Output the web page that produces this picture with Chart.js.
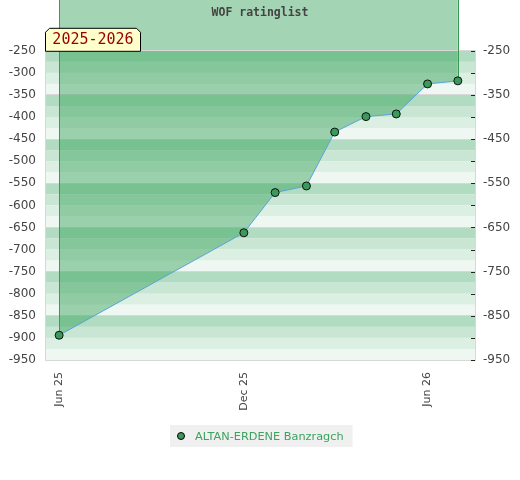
<!DOCTYPE html>
<html>
<head>
<meta charset="utf-8">
<script src="https://cdn.jsdelivr.net/npm/chart.js@4.4.1/dist/chart.umd.min.js"></script>
<style>
    html, body { margin: 0; padding: 0; background: #fff; }
</style>
</head>
<body>
<canvas id="ratingChart" width="520" height="480"></canvas>
<script>
//#region === Dữ liệu ===

const playerName = 'ALTAN-ERDENE Banzragch';
const chartTitle = 'WOF ratinglist';
const seasonLabel = '2025-2026';

// Các kỳ bảng xếp hạng và điểm tương ứng
const listDates = ['2025-06-01', '2025-12-01', '2026-01-01', '2026-02-01', '2026-03-01',
                   '2026-04-01', '2026-05-01', '2026-06-01', '2026-07-01'];
const ratings = [-894, -662, -571, -556, -434, -399, -393, -325, -318];

// Nhãn trục x
const xTickDates = ['2025-06-01', '2025-12-01', '2026-06-01'];
const xTickLabels = ['Jun 25', 'Dec 25', 'Jun 26'];
const xRange = ['2025-05-18', '2026-07-18'];

// Trục y
const yMin = -950;
const yMax = -250;
const yStep = 50;

//#endregion

//#region === Kiểu dáng ===

const fillColor = 'rgba(50, 159, 86, 0.45)';
const stripeColors = ['#b1dcc1', '#c8e6d3', '#dcefe3', '#eef7f1'];
const axisFont = { family: 'DejaVu Sans', size: 12 };
const tickColor = '#444';

//#endregion

//#region === Plugin vẽ thêm ===

// Nền sọc + vùng tô phía trên khung biểu đồ
const backgroundPlugin = {
    id: 'stripes',
    beforeDraw(chart) {
        const { ctx, chartArea: a, scales: { y } } = chart;
        ctx.save();
        for (let v = yMax, k = 0; v > yMin; v -= yStep / 2, k++) {
            const top = y.getPixelForValue(v);
            const bottom = y.getPixelForValue(v - yStep / 2);
            ctx.fillStyle = stripeColors[k % stripeColors.length];
            ctx.fillRect(a.left, top, a.width, bottom - top);
        }
        const pts = chart.getDatasetMeta(0).data;
        const first = pts[0], last = pts[pts.length - 1];
        ctx.fillStyle = fillColor;
        ctx.fillRect(first.x, 0, last.x - first.x, a.top);
        ctx.restore();
    },
    beforeDatasetDraw(chart, args) {
        if (args.index !== 0) return;
        // Hai cạnh dọc của vùng tô
        const { ctx } = chart;
        const pts = chart.getDatasetMeta(0).data;
        const first = pts[0], last = pts[pts.length - 1];
        ctx.save();
        ctx.strokeStyle = '#379a55';
        ctx.lineWidth = 1;
        ctx.beginPath();
        ctx.moveTo(Math.round(first.x) + 0.5, 0);
        ctx.lineTo(Math.round(first.x) + 0.5, first.y);
        ctx.moveTo(Math.round(last.x) + 0.5, 0);
        ctx.lineTo(Math.round(last.x) + 0.5, last.y);
        ctx.stroke();
        ctx.restore();
    },
    afterDraw(chart) {
        const { ctx, chartArea: a, scales: { y2 } } = chart;
        ctx.save();

        // Vạch chia trục phải (vẽ vào trong)
        ctx.strokeStyle = '#222';
        ctx.lineWidth = 1;
        ctx.beginPath();
        y2.ticks.forEach(t => {
            const py = Math.round(y2.getPixelForValue(t.value)) + 0.5;
            ctx.moveTo(a.right - 4, py);
            ctx.lineTo(a.right, py);
        });
        ctx.stroke();

        // Nhãn mùa giải
        const bx = a.left, by = a.top - 23, bw = 95, bh = 23, c = 4;
        ctx.beginPath();
        ctx.moveTo(bx + 0.5, by + bh + 0.5);
        ctx.lineTo(bx + 0.5, by + c + 0.5);
        ctx.lineTo(bx + c + 0.5, by + 0.5);
        ctx.lineTo(bx + bw - c + 0.5, by + 0.5);
        ctx.lineTo(bx + bw + 0.5, by + c + 0.5);
        ctx.lineTo(bx + bw + 0.5, by + bh + 0.5);
        ctx.closePath();
        ctx.fillStyle = '#ffffcc';
        ctx.fill();
        ctx.strokeStyle = '#000';
        ctx.stroke();
        ctx.fillStyle = '#990000';
        ctx.font = '15px "DejaVu Sans Mono"';
        ctx.textAlign = 'center';
        ctx.textBaseline = 'middle';
        ctx.fillText(seasonLabel, bx + bw / 2 + 0.5, by + bh / 2 + 1);

        // Chú thích
        ctx.font = '11.3px "DejaVu Sans"';
        const tw = ctx.measureText(playerName).width;
        const lw = tw + 34, lh = 22;
        const lx = Math.round(chart.width / 2 - lw / 2) + 1, ly = 425;
        ctx.fillStyle = '#f0f0f0';
        ctx.fillRect(lx, ly, lw, lh);
        ctx.beginPath();
        ctx.arc(lx + 11, ly + lh / 2, 3.5, 0, Math.PI * 2);
        ctx.fillStyle = '#3a9a5a';
        ctx.fill();
        ctx.strokeStyle = '#000';
        ctx.stroke();
        ctx.fillStyle = '#3aa35e';
        ctx.textAlign = 'left';
        ctx.fillText(playerName, lx + 25, ly + lh / 2 + 1);
        ctx.restore();
    }
};

//#endregion

//#region === Khởi tạo biểu đồ ===

function renderRatingChart() {
    const ctx = document.getElementById('ratingChart').getContext('2d');
    const points = listDates.map((d, i) => ({ x: Date.parse(d), y: ratings[i] }));

    new Chart(ctx, {
        type: 'line',
        data: {
            datasets: [{
                label: playerName,
                data: points,
                borderColor: '#5ba3db',
                borderWidth: 1,
                backgroundColor: fillColor,
                fill: 'end',
                tension: 0,
                pointRadius: 4,
                pointBorderWidth: 1,
                pointBackgroundColor: '#3a9a5a',
                pointBorderColor: '#111'
            }]
        },
        options: {
            responsive: false,
            animation: false,
            devicePixelRatio: 1,
            layout: { padding: { top: 0, left: 0, right: 0, bottom: 65 } },
            scales: {
                x: {
                    type: 'linear',
                    min: Date.parse(xRange[0]),
                    max: Date.parse(xRange[1]),
                    afterBuildTicks: scale => {
                        scale.ticks = xTickDates.map(d => ({ value: Date.parse(d) }));
                    },
                    afterFit: scale => { scale.height = 55; },
                    ticks: {
                        color: tickColor,
                        font: { family: 'DejaVu Sans', size: 11 },
                        minRotation: 90,
                        maxRotation: 90,
                        padding: 12,
                        callback: (value, index) => xTickLabels[index]
                    },
                    grid: { display: false, drawTicks: false },
                    border: { color: '#d8d8d8' }
                },
                y: {
                    position: 'left',
                    min: yMin,
                    max: yMax,
                    afterFit: scale => { scale.width = 45; },
                    ticks: { stepSize: yStep, color: tickColor, font: axisFont, padding: 9 },
                    grid: { drawOnChartArea: false, drawTicks: false },
                    border: { color: '#d8d8d8' }
                },
                y2: {
                    position: 'right',
                    min: yMin,
                    max: yMax,
                    afterFit: scale => { scale.width = 45; },
                    ticks: {
                        stepSize: yStep,
                        color: tickColor,
                        font: axisFont,
                        padding: 8,
                        callback: value => (value % 100 === -50 ? value : '')
                    },
                    grid: {
                        drawTicks: false,
                        color: c => (c.tick && c.tick.value % 100 === -50 ? '#d8d8d8' : 'transparent')
                    },
                    border: { color: '#d8d8d8' }
                }
            },
            plugins: {
                legend: { display: false },
                tooltip: { enabled: false },
                title: {
                    display: true,
                    text: chartTitle,
                    color: '#444',
                    font: { family: 'DejaVu Sans Mono', size: 11.5, weight: 'bold' },
                    padding: { top: 6, bottom: 31 }
                }
            }
        },
        plugins: [backgroundPlugin]
    });
}

document.addEventListener('DOMContentLoaded', renderRatingChart);

//#endregion
</script>
</body>
</html>
